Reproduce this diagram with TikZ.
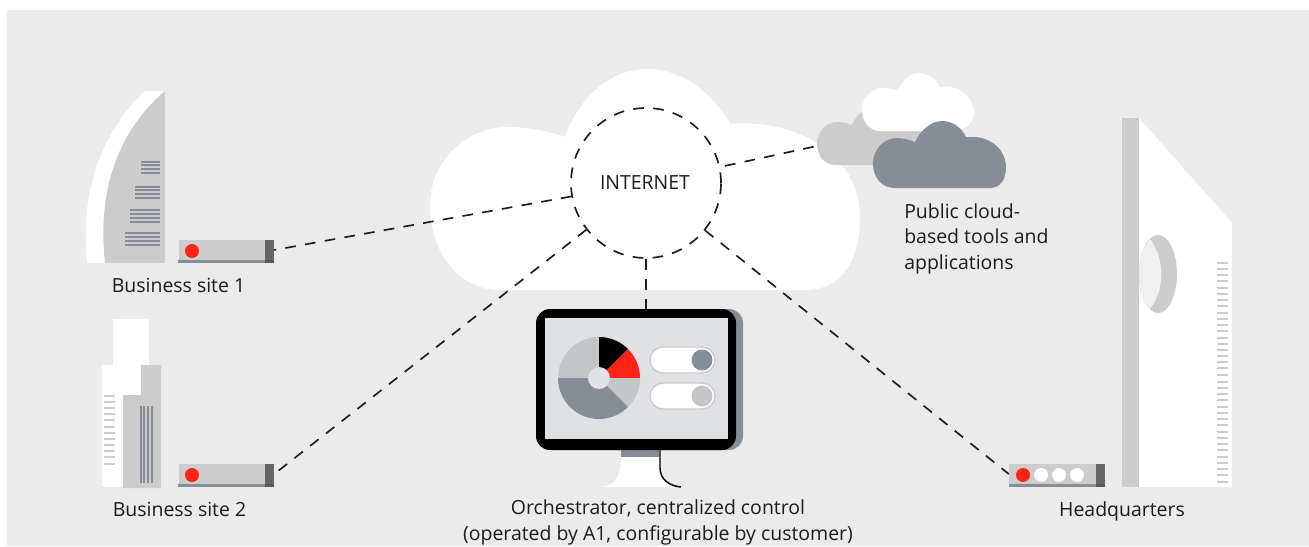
\documentclass[tikz,border=0pt]{standalone}
\usepackage{fontspec}
\setmainfont{Open Sans}
\definecolor{panel}{HTML}{EBEBEB}
\definecolor{slate}{HTML}{878D97}
\definecolor{lgrey}{HTML}{CCCCCC}
\definecolor{pgrey}{HTML}{C4C5C9}
\definecolor{dgrey}{HTML}{666666}
\definecolor{screen}{HTML}{E0E1E5}
\definecolor{alarm}{HTML}{FF2415}
\definecolor{ink}{HTML}{1C1C1C}
\definecolor{pale}{HTML}{F0F0F0}
\tikzset{
  lbl/.style={text=ink,font=\fontsize{14.6}{19.3}\selectfont,inner sep=0pt,align=center},
  link/.style={draw=ink,line width=1.25pt,dash pattern=on 8pt off 7pt},
  routerbox/.style={fill=lgrey,draw=none,rectangle,inner sep=0pt,minimum width=95*0.75pt,minimum height=20*0.75pt},
  led/.style={circle,inner sep=0pt,minimum size=14*0.75pt,draw=none},
}
\newcommand{\bars}[4]{\foreach \yy in {#3}{\fill[#4] (#1,\yy-0.9) rectangle (#2,\yy+0.9);}}
\newcommand{\vbars}[4]{\foreach \xx in {#3}{\fill[#4] (\xx-1,#1) rectangle (\xx+1,#2);}}
\newcommand{\smallcloud}{(897,91) .. controls (902,80) and (910,73) .. (918,73)
  .. controls (928,73) and (936,79) .. (940,87)
  .. controls (958,84) and (974,96) .. (974,113)
  .. controls (974,124) and (964,131) .. (952,131)
  -- (880,131) .. controls (870,131) and (862,122) .. (862,110)
  .. controls (862,97) and (872,88) .. (882,88)
  .. controls (888,88) and (892,89) .. (897,91) -- cycle}
\begin{document}
\begin{tikzpicture}[x=0.75pt,y=-0.75pt]
\useasboundingbox (0,0) rectangle (1309,546);
\fill[white] (0,0) rectangle (1309,546);
\fill[panel] (7,10) rectangle (1309,546);
% big cloud
\fill[white] (565,137) .. controls (580,95) and (612,69) .. (647,69)
  .. controls (682,69) and (712,92) .. (730,124)
  .. controls (790,118) and (860,150) .. (860,218)
  .. controls (860,262) and (840,290) .. (806,290)
  -- (500,290) .. controls (458,290) and (430,252) .. (430,205)
  .. controls (430,160) and (468,127) .. (507,127)
  .. controls (527,127) and (548,131) .. (565,137) -- cycle;
% public clouds
\fill[lgrey,xshift=-45*0.75pt,yshift=-34*0.75pt] \smallcloud;
\fill[white] \smallcloud;
\fill[slate] (915,142) .. controls (921,130) and (931,121) .. (942,121)
  .. controls (953,121) and (962,128) .. (966,137)
  -- (973,137) .. controls (992,137) and (1006,151) .. (1006,167)
  .. controls (1006,180) and (1000,188) .. (990,188)
  -- (895,188) .. controls (882,188) and (873,178) .. (873,164)
  .. controls (873,149) and (884,138) .. (897,138)
  .. controls (903,138) and (909,140) .. (915,142) -- cycle;
\coordinate (pubcloud) at (817,146);
% building 1
\fill[white] (145,91) -- (165,91) -- (165,263) -- (87,263) .. controls (82,215) and (88,145) .. (145,91) -- cycle;
\fill[lgrey] (165,91) .. controls (125,125) and (96,180) .. (105,263) -- (165,263) -- cycle;
\bars{141}{160}{161.7,165.3,169,172.7}{slate}
\bars{135}{160}{186.7,190.3,194,197.7}{slate}
\bars{130}{160}{209.7,213.7,217.7,221.7}{slate}
\bars{125}{160}{232.7,236.7,240.7,244.7}{slate}
% building 2
\fill[white] (113,319) rectangle (149,365);
\fill[white] (102,365) rectangle (141,395);
\fill[white] (102,395) rectangle (123,487);
\fill[lgrey] (141,365) -- (161,365) -- (161,488) -- (123,488) -- (123,395) -- (141,395) -- cycle;
\bars{104}{115}{396,402,408,414,420,427,433,439,445,451,457,464}{lgrey}
\vbars{406}{483}{141,144,148,152}{slate}
% HQ building
\fill[lgrey] (1122,118) rectangle (1139,487);
\fill[white] (1139,118) -- (1232,223) -- (1232,487) -- (1139,487) -- cycle;
\fill[lgrey] (1158,274) ellipse [x radius=19*0.75pt,y radius=39*0.75pt];
\fill[pale] (1150,239) .. controls (1165,258) and (1165,290) .. (1150,309)
  .. controls (1143,302) and (1139,288) .. (1139,274) .. controls (1139,260) and (1143,246) .. (1150,239) -- cycle;
\foreach \v in {458,477,494,513,533,551,570,589,608,627,644,662,684,701,719,738,757,774,795,816,833,852,871,890,909,927,945,966,984,1001,1020,1040,1058,1077,1096,1115}
  \fill[lgrey] (1217,110+\v/3-0.9) rectangle (1228,110+\v/3+0.9);
% routers
\node[routerbox] (r1) at (226.5,250) {};
\node[routerbox] (r2) at (226.5,474) {};
\node[routerbox,minimum width=96*0.75pt] (r3) at (1057,474) {};
\foreach \x/\y in {178/260,178/484,1009/484}{
  \fill[slate] (\x,\y) rectangle +(96,3);
}
\fill[dgrey] (265,240) rectangle (274,260);
\fill[dgrey!85!black] (265,260) rectangle (274,263);
\fill[dgrey] (265,464) rectangle (274,484);
\fill[dgrey!85!black] (265,484) rectangle (274,487);
\fill[dgrey] (1096,464) rectangle (1105,484);
\fill[dgrey!85!black] (1096,484) rectangle (1105,487);
\node[led,fill=alarm] (l1) at (192,251) {};
\node[led,fill=alarm] (l2) at (192,475) {};
\node[led,fill=alarm] (l3) at (1023,475) {};
\node[led,fill=white] (l4) at (1041,475) {};
\node[led,fill=white] (l5) at (1059,475) {};
\node[led,fill=white] (l6) at (1077,475) {};
% monitor stand
\fill[slate] (621,450) rectangle (659,457);
\fill[white] (621,457) -- (659,457) -- (660,470) .. controls (661,480) and (670,487) .. (682,487) -- (603,487) .. controls (615,484) and (621,478) .. (621,457) -- cycle;
\draw[black,line width=1.1pt] (660,450) -- (660,468) .. controls (660,479) and (669,486) .. (681,487);
% monitor
\fill[slate,rounded corners=14*0.75pt] (600,309) rectangle (743,450);
\node[fill=black,rectangle,rounded corners=14*0.75pt,inner sep=0pt,minimum width=200*0.75pt,minimum height=141*0.75pt] (mon) at (636,379.5) {};
\fill[screen] (545,318) rectangle (728,439);
% pie
\fill[pgrey] (599,378) -- (558,378) arc[start angle=180,end angle=90,radius=41*0.75pt] -- cycle;
\fill[black] (599,378) -- (599,337) arc[start angle=90,end angle=45,radius=41*0.75pt] -- cycle;
\fill[alarm] (599,378) -- ++(45:41*0.75pt) arc[start angle=45,end angle=0,radius=41*0.75pt] -- cycle;
\fill[pgrey] (599,378) -- (640,378) arc[start angle=0,end angle=-45,radius=41*0.75pt] -- cycle;
\fill[slate] (599,378) -- ++(-45:41*0.75pt) arc[start angle=-45,end angle=-180,radius=41*0.75pt] -- cycle;
\fill[screen] (599,378) circle[radius=11*0.75pt];
% toggles
\draw[lgrey,fill=white,line width=1.1pt,rounded corners=13*0.75pt] (650,347) rectangle (715,373);
\draw[lgrey,fill=white,line width=1.1pt,rounded corners=13*0.75pt] (650,383) rectangle (715,409);
\fill[slate] (702,360) circle[radius=10.5*0.75pt];
\fill[pgrey] (702,396) circle[radius=10.5*0.75pt];
% internet
\node[draw=ink,line width=1.25pt,dash pattern=on 8pt off 7pt,circle,inner sep=0pt,minimum size=150*0.75pt] (inet) at (646,183) {};
\node[lbl] (inetlabel) at (645,183) {INTERNET};
% connectors
\draw[link] (inet) -- (r1.east);
\draw[link] (inet) -- (r2.east);
\draw[link] (inet) -- (r3.west);
\draw[link,shorten <=5*0.75pt] (inet) -- (pubcloud);
\draw[link] (inet.south) -- (inet.south |- mon.north);
% labels
\node[lbl] (t1) at (178.5,285.5) {Business site 1};
\node[lbl] (t2) at (179.5,509.5) {Business site 2};
\node[lbl,align=left,anchor=north west] (t3) at (904,203) {Public cloud-\\based tools and\\applications};
\node[lbl] (t4) at (658,522.5) {Orchestrator, centralized control\\(operated by A1, configurable by customer)};
\node[lbl] (t5) at (1122,511.5) {Headquarters};
\end{tikzpicture}
\end{document}
